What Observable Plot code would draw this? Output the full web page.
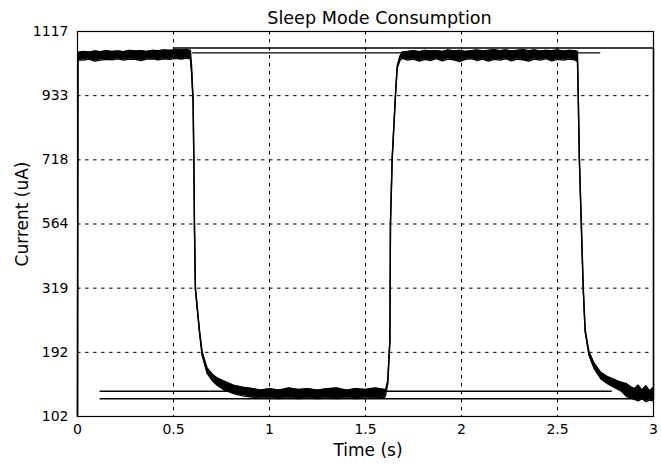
<!DOCTYPE html>
<html>
<head>
<meta charset="utf-8">
<script src="https://cdn.jsdelivr.net/npm/d3@7"></script>
<script src="https://cdn.jsdelivr.net/npm/@observablehq/plot@0.6"></script>
<style>
  html, body { margin: 0; padding: 0; background: white; }
  #chart svg { display: block; }
</style>
</head>
<body>
<div id="chart"></div>
<script>
// ---- data ----
const title = "Sleep Mode Consumption";
const xLabel = "Time (s)";
const yLabel = "Current (uA)";
const xTicks = [0, 0.5, 1, 1.5, 2, 2.5, 3];
const yTickValues = [102, 192, 319, 564, 718, 933, 1117];

// main trace: time (s) and lower / upper envelope of the noisy band (uA)
const waveT = [0.000, 0.002, 0.03, 0.06, 0.09, 0.12, 0.15, 0.18, 0.21, 0.24, 0.27, 0.30, 0.33, 0.36, 0.39, 0.42, 0.45, 0.48, 0.51, 0.54, 0.57, 0.588,
  0.594, 0.602, 0.606, 0.609, 0.614, 0.635, 0.649, 0.675, 0.70, 0.727, 0.76, 0.812, 0.86, 0.916,
  0.95, 1.00, 1.05, 1.10, 1.15, 1.20, 1.25, 1.30, 1.35, 1.40, 1.45, 1.50, 1.55, 1.60,
  1.604, 1.616, 1.627, 1.630, 1.639, 1.656, 1.665, 1.679, 1.691,
  1.72, 1.75, 1.78, 1.81, 1.84, 1.87, 1.90, 1.93, 1.96, 1.99, 2.02, 2.05, 2.08, 2.11, 2.14, 2.17, 2.20, 2.23, 2.26, 2.29, 2.32, 2.35, 2.38, 2.41, 2.44, 2.47, 2.50, 2.53, 2.56, 2.59,
  2.604, 2.608, 2.614, 2.624, 2.634, 2.644, 2.664, 2.690, 2.725, 2.76, 2.795, 2.83, 2.86, 2.88, 2.90, 2.92, 2.94, 2.96, 2.98, 3.00];
const waveLo = [102, 1036, 1035, 1038, 1032, 1035, 1037, 1036, 1039, 1035, 1038, 1037, 1034, 1038, 1039, 1036, 1039, 1037, 1040, 1038, 1041, 1039,
  1000, 915, 716, 562, 317, 233, 188, 163, 153, 146, 140, 134, 131, 129,
  128, 128, 127, 128, 127, 128, 127, 128, 127, 128, 127, 128, 128, 129,
  131, 148, 213, 562, 719, 931, 1012, 1034, 1040,
  1035, 1038, 1032, 1037, 1034, 1039, 1033, 1038, 1036, 1031, 1037, 1039, 1034, 1038, 1032, 1037, 1035, 1039, 1033, 1038, 1036, 1032, 1038, 1035, 1039, 1033, 1037, 1035, 1038, 1036,
  1030, 931, 716, 562, 317, 233, 188, 170, 155, 148, 143, 138, 130, 128, 126, 124, 127, 123, 125, 124];
const waveHi = [104, 1057, 1060, 1058, 1061, 1059, 1062, 1060, 1061, 1059, 1063, 1061, 1062, 1060, 1063, 1062, 1064, 1063, 1065, 1064, 1065, 1063,
  1020, 920, 720, 566, 321, 237, 193, 170, 162, 156, 152, 146, 143, 141,
  139, 141, 139, 142, 140, 141, 139, 141, 142, 139, 141, 140, 142, 140,
  138, 152, 217, 566, 723, 935, 1017, 1045, 1058,
  1060, 1062, 1059, 1063, 1061, 1062, 1060, 1064, 1061, 1063, 1060, 1062, 1064, 1061, 1063, 1065, 1062, 1064, 1061, 1063, 1065, 1062, 1064, 1061, 1063, 1062, 1064, 1061, 1063, 1062,
  1060, 935, 720, 566, 321, 237, 193, 177, 164, 158, 154, 150, 148, 144, 141, 146, 139, 145, 138, 143];

// stray straight traces
const stray1T = [0.118, 2.78];
const stray1V = [137.5, 137.5];
const stray2T = [0.118, 3.0, 3.0, 0.50];
const stray2V = [127, 127, 1069.5, 1069.5];
const stray3T = [0.60, 2.72];
const stray3V = [1055.5, 1055.5];

// ---- build tables ----
const toIdx = d3.scaleLinear().domain(yTickValues).range(d3.range(yTickValues.length));
const wave = waveT.map((t, i) => ({t, lo: toIdx(waveLo[i]), hi: toIdx(waveHi[i])}));
const mk = (T, V) => T.map((t, i) => ({t, v: toIdx(V[i])}));
const stray1 = mk(stray1T, stray1V);
const stray2 = mk(stray2T, stray2V);
const stray3 = mk(stray3T, stray3V);

const dash = {stroke: "black", strokeOpacity: 1, strokeWidth: 1, strokeDasharray: "3.5,4.5"};

const chart = Plot.plot({
  width: 661,
  height: 466,
  marginLeft: 77,
  marginRight: 8,
  marginTop: 31,
  marginBottom: 50,
  style: {fontFamily: "DejaVu Sans", fontSize: "14px", color: "black", background: "white"},
  x: {domain: [0, 3]},
  y: {domain: [0, yTickValues.length - 1]},
  marks: [
    Plot.gridX(xTicks.slice(1, -1), dash),
    Plot.gridY(d3.range(1, yTickValues.length - 1), dash),
    Plot.areaY(wave, {x: "t", y1: "lo", y2: "hi", fill: "black", curve: "linear"}),
    Plot.line(wave, {x: "t", y: "lo", stroke: "black", strokeWidth: 1.4}),
    Plot.line(wave, {x: "t", y: "hi", stroke: "black", strokeWidth: 1.4}),
    Plot.line(stray1, {x: "t", y: "v", stroke: "black", strokeWidth: 1.5}),
    Plot.line(stray2, {x: "t", y: "v", stroke: "black", strokeWidth: 1.5}),
    Plot.line(stray3, {x: "t", y: "v", stroke: "black", strokeWidth: 1.2}),
    Plot.frame({stroke: "black", strokeWidth: 1.2}),
    Plot.axisX(xTicks, {tickSize: 0, tickPadding: 8, tickFormat: d => String(d), label: null, fontSize: 14}),
    Plot.axisY(d3.range(yTickValues.length), {tickSize: 0, tickPadding: 9, tickFormat: i => String(yTickValues[i]), label: null, fontSize: 14}),
    Plot.text([title], {frameAnchor: "top", lineAnchor: "middle", textAnchor: "middle", dx: 14, dy: -13.3, fontSize: 17.6, fill: "black"}),
    Plot.text([xLabel], {frameAnchor: "bottom", lineAnchor: "middle", textAnchor: "middle", dx: 2.5, dy: 33.6, fontSize: 17, fill: "black"}),
    Plot.text([yLabel], {frameAnchor: "left", lineAnchor: "middle", textAnchor: "middle", rotate: -90, dx: -55.4, dy: -10, fontSize: 17, fill: "black"})
  ]
});
document.getElementById("chart").appendChild(chart);
</script>
</body>
</html>
